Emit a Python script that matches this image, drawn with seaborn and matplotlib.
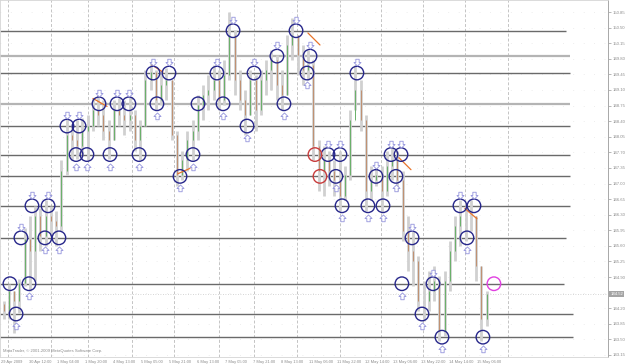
import numpy as np
import pandas as pd
import seaborn as sns
import matplotlib
matplotlib.use("Agg")
import matplotlib.pyplot as plt
from matplotlib.path import Path

# ---------------- data ----------------
first_open = 144.30
highs = [144.36, 144.75, 144.59, 144.86, 145.99, 146.28, 146.50, 146.44, 146.62, 146.50,
         146.39, 147.52, 148.46, 148.30, 148.42, 148.46, 148.53, 148.91, 148.98, 148.87,
         148.42, 148.87, 148.91, 148.87, 148.96, 148.64, 148.42, 149.54, 149.72, 149.54,
         149.50, 149.59, 149.32, 148.19, 147.74, 148.19, 148.42, 148.98, 149.21, 149.43,
         149.66, 149.54, 149.77, 150.85, 150.44, 149.54, 149.09, 149.54, 149.43, 149.54,
         149.77, 149.99, 149.88, 149.54, 150.33, 150.71, 150.33, 150.11, 149.99, 149.77,
         147.97, 147.85, 147.74, 147.52, 147.74, 147.40, 148.64, 149.66, 149.32, 148.53,
         147.40, 147.40, 147.40, 147.74, 147.85, 147.74, 147.29, 146.28, 145.94, 145.38,
         144.81, 145.04, 145.15, 144.93, 145.04, 145.72, 146.28, 146.62, 146.50, 146.62,
         146.28, 145.15, 144.59]
lows = [143.96, 143.96, 143.64, 144.09, 144.70, 144.59, 144.81, 145.49, 145.60, 145.83,
        145.60, 145.94, 147.18, 147.52, 147.56, 147.63, 147.52, 148.19, 148.30, 147.97,
        147.56, 147.97, 148.30, 148.08, 148.19, 147.74, 147.52, 148.30, 149.09, 148.64,
        148.76, 148.87, 147.97, 146.95, 147.07, 147.29, 147.52, 147.97, 148.42, 148.64,
        148.87, 148.64, 148.76, 149.32, 148.98, 148.64, 148.08, 148.53, 148.19, 148.53,
        148.98, 149.09, 148.87, 148.64, 148.98, 149.77, 149.43, 149.21, 149.32, 147.52,
        146.84, 146.73, 146.95, 146.73, 146.39, 146.62, 147.07, 148.64, 148.19, 146.39,
        146.62, 146.95, 146.35, 146.73, 147.07, 146.84, 145.72, 145.04, 144.70, 144.14,
        143.91, 144.14, 144.36, 143.46, 143.58, 144.59, 145.27, 145.60, 145.72, 145.94,
        144.81, 143.46, 143.80]
closes = [144.14, 144.59, 144.36, 144.77, 145.76, 145.49, 146.28, 145.83, 146.28, 146.16,
          146.05, 147.29, 148.08, 147.97, 147.85, 148.19, 148.30, 148.64, 148.53, 148.19,
          147.97, 148.64, 148.53, 148.42, 148.53, 147.97, 148.30, 149.32, 149.50, 148.87,
          149.21, 149.32, 148.08, 147.18, 147.52, 147.97, 148.19, 148.76, 148.98, 149.09,
          149.32, 148.87, 149.43, 150.33, 149.32, 148.87, 148.53, 149.32, 148.64, 149.32,
          149.54, 149.77, 149.21, 148.98, 150.11, 150.33, 149.88, 149.54, 149.66, 147.85,
          147.29, 147.52, 147.29, 147.07, 146.73, 147.18, 148.42, 149.09, 148.42, 146.84,
          147.07, 147.18, 146.84, 147.40, 147.52, 147.07, 145.94, 145.49, 145.27, 144.36,
          144.36, 144.59, 144.81, 143.69, 144.81, 145.49, 146.05, 146.28, 146.28, 146.28,
          145.15, 143.96, 144.52]
bar_hours = np.arange(len(closes)) * 3 + 1.5   # 3-hour bars on an hourly axis

levels = [150.43, 149.86, 149.48, 148.79, 148.29, 147.65, 147.16, 146.50, 145.78, 144.75, 144.07, 143.55]
level_light = [False, True, False, True, False, False, False, False, False, False, False, False]
level_end = [323, 325, 325, 325, 325, 325, 325, 325, 323, 322, 327, 327]

separators = [4, 28.5, 50, 75, 99, 124.5, 144.5, 169, 194, 217, 241, 265, 289.5]

# swing marks: hour, price, arrow ("d" above pointing down, "u" below pointing up, "" none), kind
mark_hour = [5.1, 8.6, 11.4, 16, 17.7, 25.1, 26.9, 33.1, 37.7, 42.9, 44.6, 49.1, 56, 62.3, 66.3, 73.1,
             78.9, 86.9, 89.1, 96, 102.3, 109.7, 112.6, 123.4, 126.9, 132.6, 140.6, 144.6, 157.7,
             161.7, 168.6, 174.9, 176.6, 179.4, 182.3, 186.9, 191.4, 193.7, 194.9, 203.4, 209.7,
             214.3, 218.3, 222.9, 228.6, 225.7, 229.1, 234.9, 240.6, 246.9, 252, 262.3, 270.3,
             266.3, 275.4, 281.7]
mark_price = [144.75, 144.07, 145.78, 144.75, 146.50, 145.78, 146.50, 145.78, 148.29, 147.65, 148.29,
              147.65, 148.79, 147.65, 148.79, 148.79, 147.65, 149.48, 148.79, 149.48, 147.16, 147.65,
              148.79, 149.48, 148.79, 150.43, 148.29, 149.48, 149.86, 148.79, 150.43, 149.48, 149.86,
              147.65, 147.16, 147.65, 147.16, 147.65, 146.50, 149.48, 146.50, 147.16, 146.50, 147.65,
              147.65, 147.16, 144.75, 145.78, 144.07, 144.75, 143.55, 146.50, 146.50, 145.78, 143.55,
              144.75]
mark_arrow = ["", "u", "d", "u", "d", "u", "d", "u", "d", "u", "d", "u", "d", "u", "d", "d",
              "u", "d", "u", "d", "u", "u", "", "d", "u", "d", "u", "d", "d",
              "u", "d", "u", "d", "", "", "d", "u", "d", "u", "d", "u",
              "d", "u", "d", "d", "u", "u", "d", "u", "d", "u", "d", "d",
              "u", "u", ""]
mark_kind = ["swing"] * 33 + ["red", "red"] + ["swing"] * 20 + ["current"]

# short orange trend segments: (h0, p0, h1, p1)
seg_h0 = [52.6, 86.3, 101.1, 175.4, 227.4, 265.1]
seg_p0 = [148.91, 149.66, 147.22, 150.38, 147.58, 146.44]
seg_h1 = [60.6, 92.6, 108.0, 182.3, 234.3, 272.0]
seg_p1 = [148.73, 149.50, 147.34, 150.11, 147.31, 146.21]

x_labels = ["29 Apr 2009", "30 Apr 12:00", "1 May 04:00", "1 May 20:00", "4 May 13:00",
            "5 May 05:00", "5 May 21:00", "6 May 13:00", "7 May 05:00", "7 May 21:00",
            "8 May 13:00", "11 May 06:00", "11 May 22:00", "12 May 14:00", "13 May 06:00",
            "13 May 22:00", "14 May 14:00", "15 May 06:00"]
x_label_hours = [16 * i for i in range(len(x_labels))]
y_ticks = [round(143.15 + 0.35 * i, 2) for i in range(23)]
current_price = 144.52

# ---------------- figure ----------------
sns.set_style("white")
plt.rcParams["font.family"] = ["Liberation Sans", "DejaVu Sans"]

fig = plt.figure(figsize=(6.25, 3.64), dpi=100)
ax = fig.add_axes([0, 1 - 357 / 364, 608 / 625, 357 / 364])
ax.set_xlim(-0.57, 346.9)
ax.set_ylim(143.105, 151.12)

# faint dotted price grid
for p in y_ticks:
    ax.axhline(p, color="#dcdcdc", lw=0.5, ls=(0, (1, 14)), zorder=0)
# day separators
for h in separators:
    ax.axvline(h, color="#c4c4c4", lw=0.7, ls=(0, (3, 2)), zorder=0)

# level lines
for lv, light, end in zip(levels, level_light, level_end):
    ax.hlines(lv, -0.57, end, color="#b4b4b4" if light else "#6a6a6a",
              lw=1.6 if light else 1.0, zorder=1)

# current price (bid) dotted line
ax.axhline(current_price, color="#c8c8c8", lw=0.6, ls=(0, (1, 2)), zorder=1)

# candles
opens = [first_open] + closes[:-1]
df = pd.DataFrame({"t": bar_hours, "o": opens, "h": highs, "l": lows, "c": closes})
ax.vlines(df.t, df.l, df.h, color="#d0d0d0", lw=2.0, zorder=2)
up = df[df.c >= df.o]
dn = df[df.c < df.o]
ax.vlines(up.t, up.o, up.c, color="#68b068", lw=0.7, zorder=3)
ax.vlines(dn.t, dn.c, dn.o, color="#c09070", lw=0.7, zorder=3)

# orange segments
for a, b, c_, d in zip(seg_h0, seg_p0, seg_h1, seg_p1):
    ax.plot([a, c_], [b, d], color="#e8742a", lw=0.9, zorder=4)

# marks
marks = pd.DataFrame({"h": mark_hour, "p": mark_price, "arrow": mark_arrow, "kind": mark_kind})
palette = {"swing": "#26268a", "red": "#c83c3c", "current": "#e040e0"}
for kind, col in palette.items():
    sub = marks[marks.kind == kind]
    sns.scatterplot(data=sub, x="h", y="p", ax=ax, s=95, marker="o",
                    facecolors="none", edgecolor=col, linewidth=1.0, zorder=5, legend=False)

down_arrow = Path([(-0.28, 0.55), (0.28, 0.55), (0.28, 0.0), (0.6, 0.0), (0.0, -0.6),
                   (-0.6, 0.0), (-0.28, 0.0), (-0.28, 0.55)], closed=True)
up_arrow = Path([(-0.28, -0.55), (0.28, -0.55), (0.28, 0.0), (0.6, 0.0), (0.0, 0.6),
                 (-0.6, 0.0), (-0.28, 0.0), (-0.28, -0.55)], closed=True)
off = 0.02252  # price per pixel
d_m = marks[marks.arrow == "d"]
u_m = marks[marks.arrow == "u"]
ax.scatter(d_m.h, d_m.p + 11 * off, marker=down_arrow, s=26, facecolor="white",
           edgecolor="#9494dc", linewidth=0.6, zorder=6)
ax.scatter(u_m.h, u_m.p - 12 * off, marker=up_arrow, s=26, facecolor="white",
           edgecolor="#9494dc", linewidth=0.6, zorder=6)

# axes styling
ax.yaxis.tick_right()
ax.set_yticks(y_ticks)
ax.set_yticklabels(["" if abs(v - current_price) < 0.1 else f"{v:.2f}" for v in y_ticks])
ax.set_xticks(x_label_hours)
ax.set_xticklabels(x_labels)
for t in ax.get_xticklabels():
    t.set_horizontalalignment("left")
ax.tick_params(axis="y", labelsize=3.1, colors="#9a9a9a", length=2, width=0.5, pad=1.5,
               labelcolor="#8c8c8c")
ax.tick_params(axis="x", labelsize=2.9, colors="#9a9a9a", length=2, width=0.5, pad=0.5,
               labelcolor="#8c8c8c")
ax.set_xlabel("")
ax.set_ylabel("")
for side in ["left", "top", "bottom"]:
    ax.spines[side].set_color("#d4d4d4")
    ax.spines[side].set_linewidth(0.6)
ax.spines["right"].set_color("#a8a8a8")
ax.spines["right"].set_linewidth(0.7)

# current price tag
ax.text(1.004, current_price, f"{current_price:.2f}", transform=ax.get_yaxis_transform(),
        fontsize=3.1, color="white", va="center", ha="left",
        bbox=dict(boxstyle="square,pad=0.25", fc="#a4a4a4", ec="none"), clip_on=False, zorder=10)

ax.text(0.005, 0.012, "MetaTrader, \u00a9 2001-2009 MetaQuotes Software Corp.",
        transform=ax.transAxes, fontsize=3.0, color="#8c8c8c", ha="left", va="bottom")

fig.savefig("out.png", dpi=100)
